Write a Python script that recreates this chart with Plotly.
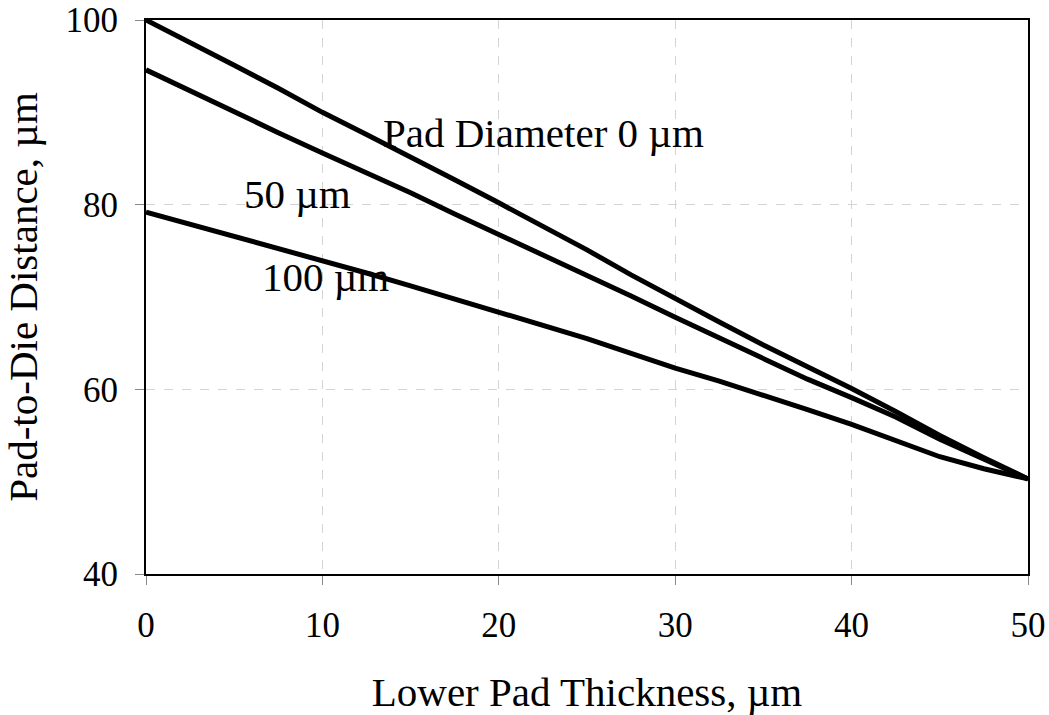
import plotly.graph_objects as go

# Lower pad thickness (µm)
thickness = [0, 2.5, 5, 7.5, 10, 12.5, 15, 17.5, 20, 22.5, 25, 27.5, 30,
             32.5, 35, 37.5, 40, 42.5, 45, 47.5, 50]

# Pad-to-die distance (µm) for each pad diameter
dist_d0 = [100.0, 97.6, 95.1, 92.6, 90.0, 87.6, 85.2, 82.7, 80.2, 77.7, 75.1,
           72.4, 69.8, 67.3, 64.8, 62.5, 60.1, 57.6, 55.0, 52.6, 50.3]
dist_d50 = [94.6, 92.3, 90.0, 87.8, 85.6, 83.5, 81.3, 79.0, 76.8, 74.6, 72.4,
            70.1, 67.8, 65.6, 63.3, 61.1, 59.1, 57.0, 54.6, 52.4, 50.3]
dist_d100 = [79.2, 77.9, 76.5, 75.3, 74.0, 72.6, 71.2, 69.8, 68.3, 66.9, 65.5,
             63.9, 62.3, 60.9, 59.4, 57.8, 56.2, 54.4, 52.7, 51.4, 50.3]

labels = ["Pad Diameter 0 µm", "50 µm", "100 µm"]
label_x = [13.35, 5.45, 6.45]
label_y = [87.8, 81.2, 72.2]

x_ticks = [0, 10, 20, 30, 40, 50]
y_ticks = [40, 60, 80, 100]

FONT = "Liberation Serif, Times New Roman, serif"

fig = go.Figure()
for ys in (dist_d0, dist_d50, dist_d100):
    fig.add_trace(go.Scatter(x=thickness, y=ys, mode="lines",
                             line=dict(color="black", width=5),
                             showlegend=False, hoverinfo="skip"))

for t, xx, yy in zip(labels, label_x, label_y):
    fig.add_annotation(x=xx, y=yy, text=t, showarrow=False,
                       xanchor="left", yanchor="middle",
                       font=dict(family=FONT, size=41, color="black"))

axis_common = dict(
    showline=True, linecolor="black", linewidth=2, mirror=True,
    ticks="outside", ticklen=9, tickwidth=1, tickcolor="#888888",
    showgrid=True, gridcolor="#d4d4d4", griddash="dash", gridwidth=1,
    zeroline=False, automargin=False,
    tickfont=dict(family=FONT, size=35, color="black"),
)

fig.update_layout(
    width=1049, height=715, autosize=False,
    margin=dict(l=146, r=21, t=20, b=141),
    paper_bgcolor="white", plot_bgcolor="white",
    font=dict(family=FONT, color="black"),
    xaxis=dict(range=[0, 50], tickvals=x_ticks,
               title=dict(text="Lower Pad Thickness, µm",
                          font=dict(family=FONT, size=41), standoff=33),
               ticklabelstandoff=10, **axis_common),
    yaxis=dict(range=[40, 100], tickvals=y_ticks,
               title=dict(text="Pad-to-Die Distance, µm",
                          font=dict(family=FONT, size=41), standoff=26),
               ticklabelstandoff=10, **axis_common),
)

fig.write_html(
    "out.html",
    config={"displayModeBar": False, "staticPlot": True},
    post_script="document.body.style.margin='0';document.body.style.overflow='hidden';",
)
